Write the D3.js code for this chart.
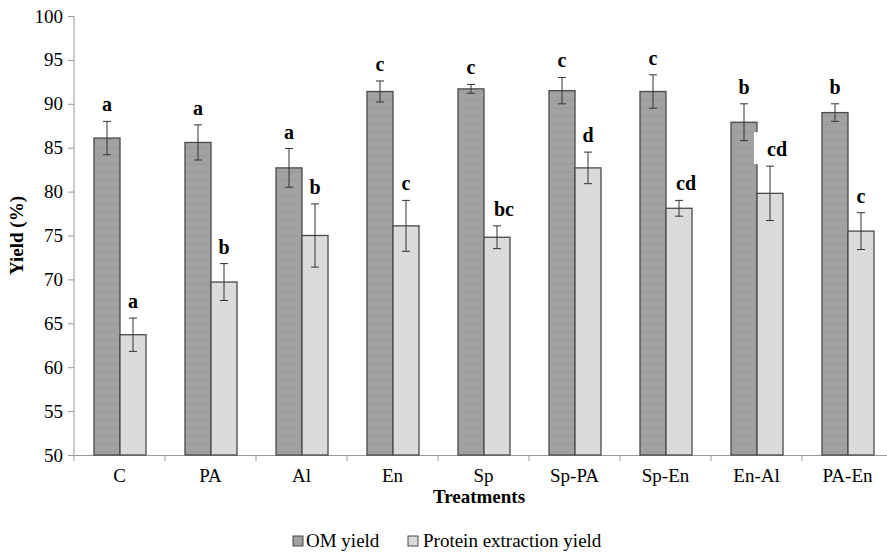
<!DOCTYPE html>
<html>
<head>
<meta charset="utf-8">
</head>
<body style="margin:0">
<script src="https://d3js.org/d3.v7.min.js"></script>
<script>
// treatments on the x axis
var treatments = ["C", "PA", "Al", "En", "Sp", "Sp-PA", "Sp-En", "En-Al", "PA-En"];
// OM yield (%) and error
var omYield = [86.1, 85.6, 82.7, 91.4, 91.7, 91.5, 91.4, 87.9, 89.0];
var omErr   = [1.9, 2.0, 2.2, 1.2, 0.5, 1.5, 1.9, 2.1, 1.0];
var omLetters = ["a", "a", "a", "c", "c", "c", "c", "b", "b"];
// protein extraction yield (%) and error
var protYield = [63.7, 69.7, 75.0, 76.1, 74.8, 82.7, 78.1, 79.8, 75.5];
var protErr   = [1.9, 2.1, 3.6, 2.9, 1.3, 1.8, 0.9, 3.1, 2.1];
var protLetters = ["a", "b", "b", "c", "bc", "d", "cd", "cd", "c"];
var yTicks = [50, 55, 60, 65, 70, 75, 80, 85, 90, 95, 100];

var serif = "'Liberation Serif'";
var width = 887, height = 554;
var svg = d3.select("body").append("svg")
    .attr("width", width).attr("height", height);

var defs = svg.append("defs");
// faint horizontal stripes for OM bars
var p1 = defs.append("pattern").attr("id", "omPat")
    .attr("patternUnits", "userSpaceOnUse").attr("width", 8).attr("height", 8);
p1.append("rect").attr("width", 8).attr("height", 8).attr("fill", "#a2a2a2");
p1.append("line").attr("x1", 0).attr("x2", 8).attr("y1", 4).attr("y2", 4)
    .attr("stroke", "#999").attr("stroke-width", 1);
// faint diagonal hatch for protein bars
var p2 = defs.append("pattern").attr("id", "protPat")
    .attr("patternUnits", "userSpaceOnUse").attr("width", 4).attr("height", 4);
p2.append("rect").attr("width", 4).attr("height", 4).attr("fill", "#dedede");
p2.append("path").attr("d", "M0,4 L4,0").attr("stroke", "#d2d2d2").attr("stroke-width", 1);

var x0 = 74, yTop = 16, yBot = 455, band = 91;
var x = d3.scaleBand().domain(treatments).range([x0, x0 + band * treatments.length]).paddingInner(0).paddingOuter(0);
var y = d3.scaleLinear().domain([50, 100]).range([yBot, yTop]);
var barW = 26, gapL = 20;

// y axis
var yAxis = svg.append("g").attr("transform", "translate(" + x0 + ",0)")
    .call(d3.axisLeft(y).tickValues(yTicks).tickSize(6).tickPadding(5));
yAxis.attr("font-family", null).attr("font-size", null);
yAxis.select(".domain").attr("stroke", "#999").attr("d", "M0," + yTop + "V" + yBot);
yAxis.selectAll(".tick line").attr("stroke", "#999");
yAxis.selectAll(".tick text").attr("font-size", "19px").attr("fill", "#000");

// x axis
var xAxis = svg.append("g").attr("transform", "translate(0," + yBot + ")")
    .call(d3.axisBottom(x).tickSize(0).tickPadding(14));
xAxis.attr("font-family", null).attr("font-size", null);
xAxis.select(".domain").attr("stroke", "#999");
xAxis.selectAll(".tick text").attr("font-size", "19px").attr("fill", "#000");
// boundary ticks
svg.selectAll(".bt").data(d3.range(treatments.length + 1)).enter().append("line")
    .attr("x1", function (i) { return x0 + i * band; })
    .attr("x2", function (i) { return x0 + i * band; })
    .attr("y1", yBot).attr("y2", yBot + 6)
    .attr("stroke", "#999");

function drawSeries(vals, errs, offset, fill) {
    var g = svg.append("g");
    g.selectAll("rect").data(vals).enter().append("rect")
        .attr("x", function (d, i) { return x(treatments[i]) + offset; })
        .attr("y", function (d) { return y(d); })
        .attr("width", barW)
        .attr("height", function (d) { return yBot - y(d); })
        .attr("fill", fill)
        .attr("stroke", "#4a4a4a").attr("stroke-width", 1.3);
    var cx = function (i) { return x(treatments[i]) + offset + barW / 2; };
    vals.forEach(function (v, i) {
        var t = y(v + errs[i]), b = y(v - errs[i]);
        g.append("line").attr("x1", cx(i)).attr("x2", cx(i)).attr("y1", t).attr("y2", b)
            .attr("stroke", "#333").attr("stroke-width", 1);
        g.append("line").attr("x1", cx(i) - 4).attr("x2", cx(i) + 4).attr("y1", t).attr("y2", t)
            .attr("stroke", "#333").attr("stroke-width", 1);
        g.append("line").attr("x1", cx(i) - 4).attr("x2", cx(i) + 4).attr("y1", b).attr("y2", b)
            .attr("stroke", "#333").attr("stroke-width", 1);
    });
    return cx;
}

var cxOm = drawSeries(omYield, omErr, gapL, "url(#omPat)");
var cxPr = drawSeries(protYield, protErr, gapL + barW, "url(#protPat)");

// significance letters
var lg = svg.append("g");
omLetters.forEach(function (l, i) {
    lg.append("text").attr("x", cxOm(i)).attr("y", y(omYield[i] + omErr[i]) - 10)
        .attr("text-anchor", "middle").attr("font-size", "20px").attr("font-weight", "bold")
        .text(l);
});
protLetters.forEach(function (l, i) {
    var dx = l.length > 1 ? 7 : 0;
    var tx = cxPr(i) + dx, ty = y(protYield[i] + protErr[i]) - 10;
    if (treatments[i] == "En-Al") {
        // white label box that cuts into the neighbour bar
        lg.append("rect").attr("x", tx - 23).attr("y", ty - 24).attr("width", 38).attr("height", 32)
            .attr("fill", "#fff");
    }
    lg.append("text").attr("x", tx).attr("y", ty)
        .attr("text-anchor", "middle").attr("font-size", "20px").attr("font-weight", "bold")
        .text(l);
});

// axis titles
svg.append("text").attr("transform", "translate(23," + ((yTop + yBot) / 2) + ") rotate(-90)")
    .attr("text-anchor", "middle").attr("font-size", "19px").attr("font-weight", "bold")
    .text("Yield (%)");
svg.append("text").attr("x", 479).attr("y", 503)
    .attr("text-anchor", "middle").attr("font-size", "19px").attr("font-weight", "bold")
    .text("Treatments");

// legend
var leg = svg.append("g").attr("transform", "translate(293,547)");
leg.append("rect").attr("x", 0).attr("y", -11).attr("width", 10).attr("height", 10)
    .attr("fill", "url(#omPat)").attr("stroke", "#4a4a4a");
leg.append("text").attr("x", 13).attr("y", 0).attr("font-size", "19px").text("OM yield");
leg.append("rect").attr("x", 115).attr("y", -11).attr("width", 10).attr("height", 10)
    .attr("fill", "url(#protPat)").attr("stroke", "#4a4a4a");
leg.append("text").attr("x", 130).attr("y", 0).attr("font-size", "19px").text("Protein extraction yield");

// serif on every label, forced
svg.selectAll("text").attr("font-family", "Liberation Serif")
    .style("font-family", serif, "important");
</script>
</body>
</html>
